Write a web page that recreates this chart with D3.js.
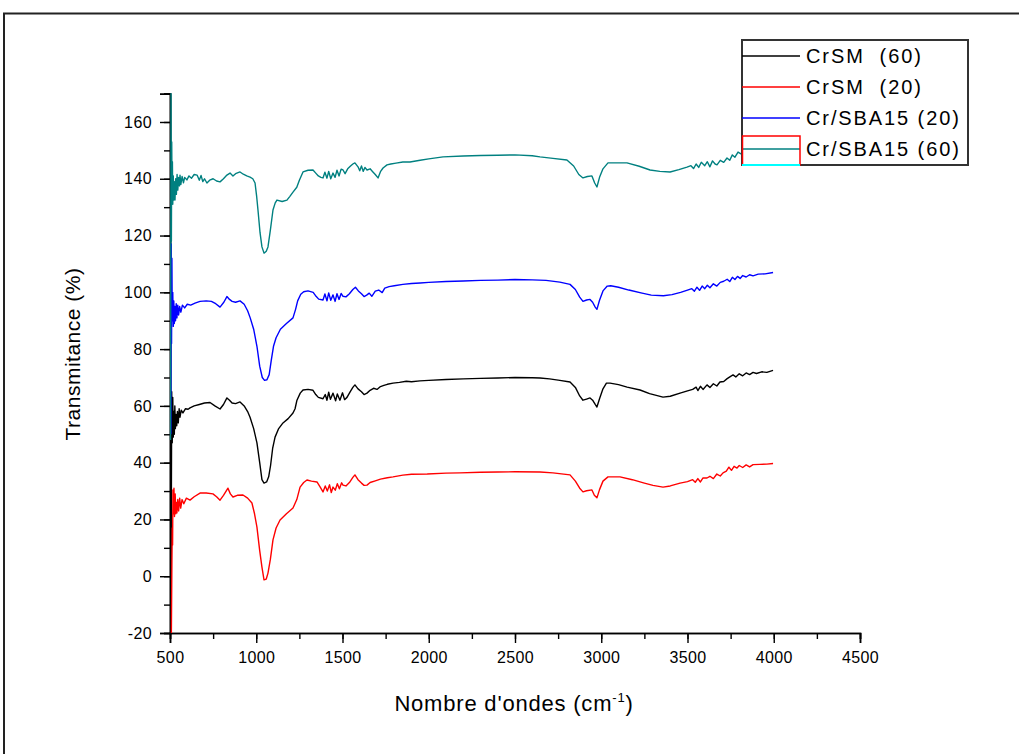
<!DOCTYPE html>
<html>
<head>
<meta charset="utf-8">
<script src="https://cdn.jsdelivr.net/npm/d3@7"></script>
<style>
  body { margin: 0; background: #fff; }
  svg { display: block; font-family: "Liberation Sans", Arial, sans-serif; }
</style>
</head>
<body>
<div id="chart"></div>
<script>
// IR spectra, [wavenumber, transmitance]
const crsm60 = [[505,-20],[508,30],[510,65],[513,47],[516,63],[519,49],[522,58],[525,50],[528,60],[531,52],[535,57],[539,53],[543,58],[548,54],[553,59],[558,56],[565,58.5],[575,57.5],[590,59],[605,58.8],[616,59.3],[640,60],[670,60.5],[700,61],[732,61.2],[760,60],[790,58.9],[810,60.5],[830,62.8],[845,62],[860,61],[880,60.8],[906,61.4],[930,60],[950,58],[964,56],[985,52],[1004,47],[1020,40],[1033,34],[1045,32.8],[1060,33.2],[1072,35],[1083,39],[1095,45],[1109,49],[1130,52],[1155,54],[1185,55.5],[1213,57.5],[1225,59],[1236,62],[1255,64.5],[1271,65.6],[1300,65.8],[1329,65.5],[1345,64],[1360,63],[1387,62.5],[1400,64],[1410,62],[1420,64.8],[1430,62.3],[1445,64.5],[1460,61.8],[1470,64.2],[1485,62],[1500,64.6],[1512,62.2],[1526,63],[1545,65],[1560,66.5],[1572,67.4],[1590,66],[1610,65],[1625,64],[1642,64.5],[1660,65.5],[1680,66.2],[1700,65.8],[1720,66.8],[1740,67.2],[1760,67.6],[1793,68],[1830,68.3],[1870,68.7],[1900,68.5],[1949,68.8],[2000,69],[2100,69.3],[2200,69.5],[2300,69.7],[2400,69.8],[2500,70],[2600,69.9],[2645,69.8],[2700,69.5],[2760,69],[2819,68.4],[2850,66.5],[2875,63.5],[2894,62],[2915,62.4],[2935,62.8],[2950,62],[2965,60.5],[2975,59.6],[2990,62.5],[3010,66],[3030,68],[3051,68],[3100,67.5],[3150,66.6],[3225,65.6],[3280,64.3],[3358,63.1],[3400,63.4],[3457,64.5],[3500,65.3],[3530,65.8],[3550,66.6],[3560,65.4],[3575,66.9],[3590,65.8],[3613,67.4],[3630,66.5],[3650,67.8],[3670,67],[3688,68.4],[3710,68.6],[3730,69.6],[3750,70.4],[3764,70.9],[3780,70.2],[3800,71.3],[3820,70.6],[3840,71.6],[3860,71],[3880,71.8],[3900,71.4],[3930,72],[3960,71.8],[3996,72.5]];

const crsm20 = [[508,-20],[511,5],[513,17],[515,11],[517,30.4],[520,22],[523,31],[526,21],[530,29],[534,22],[538,26],[540,22.3],[545,27],[550,23],[556,27.5],[562,24],[570,27],[580,25.5],[595,27.5],[616,26.8],[640,28],[674,29.3],[710,29.3],[749,29],[770,28],[790,26.8],[810,28.5],[836,31],[850,29],[865,27.9],[890,28.5],[923,28.6],[950,27.5],[975,25.8],[990,22],[1004,17.3],[1020,9],[1033,3.2],[1045,-1.3],[1058,-1],[1068,1.1],[1082,6],[1097,12.8],[1115,17],[1138,19.8],[1175,22],[1213,24],[1235,27],[1254,31.4],[1275,33],[1294,33.9],[1320,33.5],[1352,33.2],[1370,31.5],[1387,29.7],[1400,31.8],[1412,30],[1425,32.2],[1435,29.5],[1445,31.4],[1458,30.3],[1470,32.6],[1482,30.8],[1495,32.9],[1503,32.1],[1520,31.8],[1540,33],[1560,34.8],[1572,35.7],[1590,34],[1610,32.8],[1625,32],[1642,32.1],[1660,33],[1690,33.6],[1720,34.2],[1760,34.7],[1793,35],[1850,35.6],[1900,35.9],[1991,36],[2100,36.3],[2181,36.4],[2300,36.6],[2400,36.7],[2500,36.8],[2645,36.7],[2720,36.4],[2819,35.7],[2850,33.5],[2875,31],[2894,29.7],[2915,30.1],[2946,30.4],[2960,28.5],[2975,27.6],[2990,30.5],[3010,33.5],[3039,35],[3109,35],[3180,34],[3250,32.8],[3300,32],[3358,31.4],[3400,31.8],[3457,32.8],[3500,33.3],[3530,34],[3545,33.1],[3560,34.4],[3575,33.2],[3590,34.6],[3613,34.6],[3630,35.2],[3650,34.4],[3670,36],[3690,35.3],[3706,36.4],[3725,37],[3740,38.4],[3755,37.3],[3770,38.7],[3787,38.1],[3800,39],[3820,38.3],[3840,39.2],[3860,38.5],[3880,39.3],[3920,39.4],[3960,39.5],[3996,39.7]];

const sba20 = [[505,50],[507,117],[509,82],[511,112],[513,90],[516,100],[519,88],[522,97],[525,89],[528,95],[532,90],[536,96],[540,91],[545,95.5],[550,92],[556,95],[563,93],[572,95.5],[585,94.5],[600,95.8],[620,95.5],[645,96.2],[674,96.8],[710,97],[740,96.8],[765,96],[790,94.8],[812,96.5],[830,98.5],[845,97.5],[860,96.8],[880,96.5],[906,97],[930,95.8],[950,93.5],[965,91],[985,87],[1004,81],[1020,74],[1035,70],[1048,69],[1062,69.2],[1075,71],[1087,76],[1100,81],[1115,84],[1140,87],[1175,89],[1213,91],[1228,94],[1240,97],[1258,99.3],[1275,100.2],[1300,100.5],[1330,100],[1348,98.5],[1362,97.6],[1387,97.3],[1398,99.4],[1410,97],[1420,99.8],[1432,97.2],[1445,99.1],[1457,96.8],[1468,99.5],[1480,97.5],[1492,99.6],[1503,98.6],[1520,98.4],[1540,99.5],[1560,101],[1575,101.8],[1592,100.5],[1610,99.5],[1625,98.5],[1640,99],[1655,99.7],[1670,98.6],[1690,100.4],[1710,100.8],[1730,99.9],[1745,101.5],[1770,102],[1800,102.3],[1850,102.8],[1900,103.1],[1950,103.3],[2000,103.5],[2100,103.8],[2200,104],[2300,104.2],[2400,104.3],[2500,104.5],[2600,104.4],[2680,104.2],[2760,103.6],[2819,102.8],[2850,101],[2875,98.3],[2894,96.8],[2915,97.3],[2935,97.5],[2950,96.5],[2965,94.8],[2975,94],[2990,97.2],[3010,100.5],[3035,102.2],[3055,102.3],[3100,101.8],[3160,100.8],[3230,99.8],[3290,99],[3360,98.8],[3410,99.2],[3460,100],[3500,100.8],[3525,101.3],[3540,100.4],[3555,101.8],[3570,100.7],[3585,102.2],[3600,101.3],[3615,102.5],[3630,101.6],[3650,103],[3670,102.2],[3690,103.5],[3710,103.9],[3730,104.6],[3745,103.8],[3760,105.3],[3775,104.5],[3790,105.6],[3805,104.9],[3820,105.9],[3840,105.4],[3860,106.2],[3880,105.8],[3910,106.4],[3950,106.5],[3996,107]];

const sba60 = [[503,48],[506,170],[508,118],[510,153],[512,134],[514,146],[516,131],[519,141],[522,132.5],[525,139],[529,132.5],[533,140],[537,134.5],[541,141.5],[545,136],[550,140.5],[555,137.5],[558,141.3],[563,138],[570,140.8],[578,138.6],[585,140.5],[598,139.6],[610,141],[625,140.2],[640,141.5],[657,141.3],[670,139.5],[680,141.2],[690,139],[700,140],[714,138.5],[730,139.5],[750,140],[770,139.2],[790,138.9],[810,140],[830,141.3],[848,142],[865,141],[880,141.8],[906,142.4],[925,141.6],[945,141],[964,140.6],[980,140],[993,138.5],[1002,134],[1010,129],[1022,121],[1033,116],[1045,113.8],[1058,114.5],[1068,116],[1082,122],[1097,129],[1110,131.5],[1120,132.5],[1150,132],[1178,132.5],[1195,133.8],[1213,135.3],[1235,137],[1250,139.5],[1271,142.4],[1300,143],[1329,143.1],[1345,142],[1360,141],[1375,140.5],[1387,140.3],[1398,142.3],[1410,140.2],[1420,142.6],[1432,140],[1445,142],[1457,140.5],[1468,143],[1480,141],[1492,143.4],[1503,143.1],[1515,141.8],[1530,143.5],[1545,144.4],[1560,145.2],[1572,145.6],[1590,144.2],[1600,142.8],[1610,144.5],[1620,142.6],[1630,144],[1642,143.1],[1660,143.5],[1675,142.5],[1690,141.5],[1706,140.3],[1720,142.5],[1735,143.8],[1758,144.9],[1780,145.2],[1810,145.5],[1850,145.9],[1891,145.9],[1950,146.5],[2000,147],[2083,147.7],[2200,148],[2300,148.2],[2400,148.3],[2500,148.4],[2600,148.1],[2645,147.7],[2720,147.2],[2801,146.6],[2840,144.5],[2870,141.5],[2894,140.3],[2920,140.8],[2946,141],[2962,138.5],[2975,137.1],[2990,140.5],[3010,143.5],[3039,145.6],[3100,145.6],[3149,145.6],[3220,144.4],[3283,143.1],[3340,142.6],[3399,142.4],[3450,143.2],[3497,144.1],[3520,144.6],[3535,143.6],[3550,145.2],[3565,144],[3580,145.8],[3600,144.6],[3615,146],[3630,144.2],[3645,146.3],[3660,145.2],[3671,144.9],[3690,146.5],[3710,145.8],[3729,147.3],[3745,146.5],[3760,148.4],[3775,147.6],[3793,149.4],[3810,148.8],[3830,149.8],[3860,150.2],[3900,150.8],[3950,151.2],[3996,151.8]];

const seriesNames = ["CrSM  (60)", "CrSM  (20)", "Cr/SBA15 (20)", "Cr/SBA15 (60)"];
const seriesColors = ["#000000", "#ff0000", "#0000ff", "#008080"];
const seriesData = [crsm60, crsm20, sba20, sba60];

const xTicks = [500, 1000, 1500, 2000, 2500, 3000, 3500, 4000, 4500];
const yTicks = [-20, 0, 20, 40, 60, 80, 100, 120, 140, 160];

const width = 1019, height = 754;

const svg = d3.select("#chart").append("svg")
    .attr("width", width)
    .attr("height", height);

// outer frame of the figure (runs off the right and bottom edges)
svg.append("path")
    .attr("d", `M4,${height} V13.5 H${width}`)
    .attr("fill", "none")
    .attr("stroke", "#222")
    .attr("stroke-width", 2);

const x = d3.scaleLinear().domain([500, 4500]).range([170, 860]);
const y = d3.scaleLinear().domain([-20, 170]).range([633, 93.6]);

const plain = d => String(d);   // no thousands comma, ascii minus

// x axis
const xAxis = svg.append("g").attr("transform", `translate(0,${y(-20)})`);
xAxis.call(d3.axisBottom(x).tickValues(d3.range(500, 4501, 250)).tickSize(6).tickFormat(""));
xAxis.call(g => g.append("g").call(d3.axisBottom(x).tickValues(xTicks).tickSize(10).tickPadding(9).tickFormat(plain)));

// y axis
const yAxis = svg.append("g").attr("transform", `translate(${x(500)},0)`);
yAxis.call(d3.axisLeft(y).tickValues(d3.range(-20, 171, 10)).tickSize(6).tickFormat(""));
yAxis.call(g => g.append("g").call(d3.axisLeft(y).tickValues(yTicks).tickSize(10).tickPadding(8).tickFormat(plain)));

svg.selectAll(".domain").attr("stroke", "#000").attr("stroke-width", 1.6);
svg.selectAll(".tick line").attr("stroke", "#000").attr("stroke-width", 1.4);
svg.selectAll(".tick text")
    .attr("fill", "#000")
    .style("font-size", "16px")
    .style("letter-spacing", "0.4px")
    .style("font-family", "'Liberation Sans', Arial, sans-serif");

// curves
const line = d3.line().x(d => x(d[0])).y(d => y(d[1]));
svg.append("g")
    .selectAll("path")
    .data(seriesData)
    .enter()
    .append("path")
    .attr("d", line)
    .attr("fill", "none")
    .attr("stroke", (d, i) => seriesColors[i])
    .attr("stroke-width", 1.4)
    .attr("stroke-linejoin", "round");

// axis titles
svg.append("text")
    .attr("transform", "translate(80,354) rotate(-90)")
    .attr("text-anchor", "middle")
    .style("font-size", "21px")
    .style("letter-spacing", "0.5px")
    .text("Transmitance (%)");

const xt = svg.append("text")
    .attr("x", x(2500) - 1)
    .attr("y", 711)
    .attr("text-anchor", "middle")
    .style("font-size", "22px")
    .style("letter-spacing", "0.8px");
xt.append("tspan").text("Nombre d'ondes (cm");
xt.append("tspan").attr("dy", -9).style("font-size", "13px").text("-1");
xt.append("tspan").attr("dy", 9).text(")");

// legend
const lg = svg.append("g").attr("transform", "translate(742,40)");
lg.append("rect")
    .attr("width", 226)
    .attr("height", 125)
    .attr("fill", "#fff")
    .attr("stroke", "#333")
    .attr("stroke-width", 2);

const rows = lg.selectAll(".row")
    .data(seriesNames)
    .enter()
    .append("g")
    .attr("transform", (d, i) => `translate(0,${16 + i * 31})`);

rows.append("line")
    .attr("x1", 0).attr("x2", 58)
    .attr("stroke", (d, i) => seriesColors[i])
    .attr("stroke-width", 1.6);

rows.append("text")
    .attr("x", 64)
    .attr("dy", "0.36em")
    .style("font-size", "20px")
    .style("letter-spacing", "1.9px")
    .style("white-space", "pre")
    .text(d => d);

// selection marks left on the last legend entry
lg.append("rect")
    .attr("x", 0.5).attr("y", 96)
    .attr("width", 57.5).attr("height", 29)
    .attr("fill", "none")
    .attr("stroke", "#ff0000")
    .attr("stroke-width", 1.5);
lg.append("line")
    .attr("x1", 0).attr("x2", 58)
    .attr("y1", 125).attr("y2", 125)
    .attr("stroke", "#00ffff")
    .attr("stroke-width", 2);
</script>
</body>
</html>
